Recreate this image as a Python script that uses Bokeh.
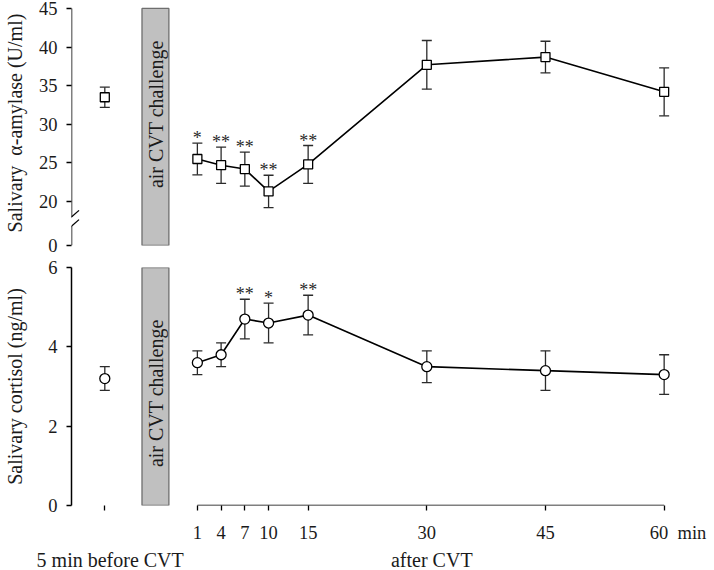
from math import pi
from bokeh.plotting import figure
from bokeh.models import FixedTicker, Range1d, Arrow, Label, Div
from bokeh.layouts import column
from bokeh.core.properties import value
from bokeh.embed import file_html
from bokeh.resources import INLINE

# ---------------- data ----------------
times = [1, 4, 7, 10, 15, 30, 45, 60]
time_ticks = [1, 4, 7, 10, 15, 30, 45, 60]

amylase = [25.5, 24.7, 24.2, 21.3, 24.8, 37.7, 38.7, 34.2]
amylase_sem = [2.05, 2.35, 2.2, 2.1, 2.45, 3.15, 2.05, 3.1]
amylase_sig = ["*", "**", "**", "**", "**", "", "", ""]
amylase_pre = [33.5]
amylase_pre_sem = [1.3]
amylase_ticks = [20, 25, 30, 35, 40, 45]

cortisol = [3.6, 3.8, 4.7, 4.6, 4.8, 3.5, 3.4, 3.3]
cortisol_sem = [0.3, 0.3, 0.5, 0.5, 0.5, 0.4, 0.5, 0.5]
cortisol_sig = ["", "", "**", "*", "**", "", "", ""]
cortisol_pre = [3.2]
cortisol_pre_sem = [0.3]
cortisol_ticks = [0, 2, 4, 6]

bottom_texts = ["5 min before CVT", "after CVT"]
bottom_text_x = [-9.84, 30.75]

# ---------------- layout constants ----------------
PRE_X = -10.7             # position of the "5 min before CVT" sample
CHALLENGE = (-6.0, -2.6)  # air CVT challenge window
X0, X1 = -14.91, 63.33
AMY_ZERO, AMY_END = 14.3, 46.03   # broken axis: "0" drawn at 14.3
BREAK_LO, BREAK_HI = 16.8, 18.0
SERIF = "Liberation Serif"
ML, FRAME_W, MR = 70, 620, 22
W = ML + FRAME_W + MR
PPU = FRAME_W / (X1 - X0)
TOP_H, BOT_H, STRIP_H = 256, 294, 20
NB = "\u00a0"


def base_fig(height, yr, top, bottom, xaxis, yaxis=True):
    p = figure(width=W, height=height, x_range=Range1d(X0, X1), y_range=Range1d(*yr),
               output_backend="svg", toolbar_location=None,
               min_border_left=ML, min_border_right=MR,
               min_border_top=top, min_border_bottom=bottom,
               x_axis_location="below" if xaxis else None,
               y_axis_location="left" if yaxis else None)
    p.outline_line_color = None
    p.xgrid.visible = False
    p.ygrid.visible = False
    p.background_fill_color = "white"
    p.border_fill_color = "white"
    for ax in p.axis:
        ax.major_tick_out = 5
        ax.major_tick_in = 0
        ax.minor_tick_line_color = None
        ax.major_tick_line_color = "black"
        ax.major_tick_line_width = 1.3
        ax.axis_line_color = "black"
        ax.axis_line_width = 1.5
        ax.major_label_text_font = SERIF
        ax.major_label_text_font_size = "18.5px"
        ax.major_label_text_color = "#1a1a1a"
        ax.axis_label_text_font = SERIF
        ax.axis_label_text_font_size = "20px"
        ax.axis_label_text_font_style = "normal"
        ax.axis_label_text_color = "#1a1a1a"
    return p


def draw(p, vals, sem, sig, pre, pre_sem, marker, size, box_bottom, box_top, label_y):
    p.quad(left=[CHALLENGE[0]], right=[CHALLENGE[1]], bottom=[box_bottom], top=[box_top],
           fill_color="#c0c0c0", line_color="#6e6e6e", line_width=1.3)
    p.add_layout(Label(x=(CHALLENGE[0] + CHALLENGE[1]) / 2, y=label_y, text="air CVT challenge",
                       angle=pi / 2, text_align="center", text_baseline="middle", x_offset=1,
                       text_font=SERIF, text_font_size="20px", text_color="#1a1a1a"))
    lo = [v - s for v, s in zip(vals, sem)]
    hi = [v + s for v, s in zip(vals, sem)]
    plo = [v - s for v, s in zip(pre, pre_sem)]
    phi = [v + s for v, s in zip(pre, pre_sem)]
    xs = times + [PRE_X]
    p.segment(x0=xs, y0=lo + plo, x1=xs, y1=hi + phi, line_color="#2b2b2b", line_width=1.3)
    p.scatter(x=xs + xs, y=lo + plo + hi + phi, marker="dash", size=10,
              line_color="#2b2b2b", line_width=1.3)
    p.line(times, vals, line_color="black", line_width=1.6)
    p.scatter(x=xs, y=vals + pre, marker=marker, size=size, fill_color="white",
              line_color="black", line_width=1.3)
    p.text(x=times, y=hi, text=sig, text_font=value(SERIF), text_font_size="18px",
           text_align="center", text_baseline="alphabetic", y_offset=-5, text_color="#2a2a2a")


# ---------------- top: alpha-amylase ----------------
top = base_fig(TOP_H, (AMY_ZERO, AMY_END), 0, 11, False)
ya = top.yaxis[0]
ya.ticker = FixedTicker(ticks=[AMY_ZERO] + amylase_ticks)
ya.major_label_overrides = {AMY_ZERO: "0"}
ya.axis_line_color = None
ya.axis_label = "Salivary\u00a0 \u03b1-amylase (U/ml)"
ya.axis_label_standoff = 10
ya.major_label_standoff = 9
draw(top, amylase, amylase_sem, amylase_sig, amylase_pre, amylase_pre_sem,
     "square", 9, AMY_ZERO, 45, 31.3)
for (a, b) in [(AMY_ZERO, BREAK_LO), (BREAK_HI, amylase_ticks[-1])]:
    top.add_layout(Arrow(start=None, end=None, x_start=X0, y_start=a, x_end=X0, y_end=b,
                         line_color="black", line_width=1.5))
for c in (BREAK_LO, BREAK_HI):
    top.add_layout(Arrow(start=None, end=None, x_start=X0 - 0.95, y_start=c - 0.85,
                         x_end=X0 + 0.95, y_end=c + 0.85, line_color="black", line_width=1.3))

# ---------------- bottom: cortisol ----------------
bot = base_fig(BOT_H, (0, 6), 11, 45, True)
yb = bot.yaxis[0]
yb.ticker = FixedTicker(ticks=cortisol_ticks)
yb.axis_label = "Salivary cortisol (ng/ml)"
yb.axis_label_standoff = 19
yb.major_label_standoff = 9
xb = bot.xaxis[0]
xb.ticker = FixedTicker(ticks=[PRE_X] + time_ticks)
xb.major_label_overrides = {PRE_X: "",
                            time_ticks[-1]: NB * 6 + str(time_ticks[-1]) + NB * 2 + "min"}
xb.axis_line_color = None
xb.major_label_standoff = 12
draw(bot, cortisol, cortisol_sem, cortisol_sig, cortisol_pre, cortisol_pre_sem,
     "circle", 10, 0, 6, 2.83)
bot.add_layout(Arrow(start=None, end=None, x_start=time_ticks[0], y_start=0,
                     x_end=time_ticks[-1], y_end=0, line_color="black", line_width=1.5))

# ---------------- caption row below the time axis (same time scale) ----------------
spans = "".join(
    f'<span style="position:absolute;left:{ML + (m - X0) * PPU:.1f}px;top:0;'
    f'transform:translateX(-50%);white-space:nowrap;">{t}</span>'
    for m, t in zip(bottom_text_x, bottom_texts))
caption = Div(text=f'<div style="position:relative;width:{W}px;height:{STRIP_H}px;'
                   f'font-family:\'{SERIF}\';font-size:20px;line-height:20px;'
                   f'color:#1a1a1a;">{spans}</div>',
              width=W, height=STRIP_H, margin=0)

layout = column(top, bot, caption)
open("out.html", "w").write(file_html(layout, INLINE))
